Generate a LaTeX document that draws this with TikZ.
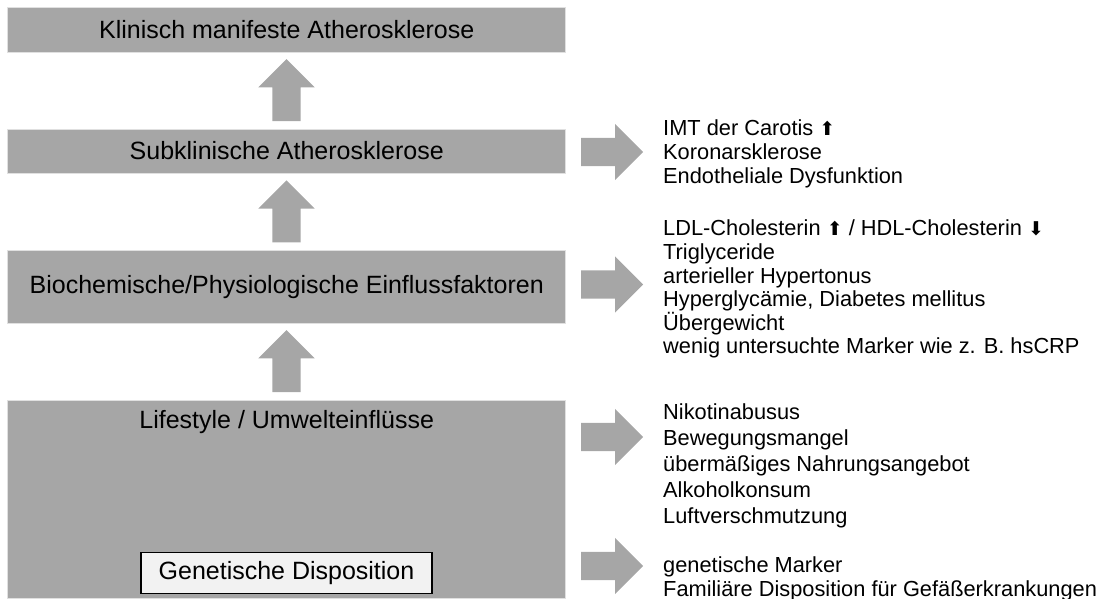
\documentclass[tikz,border=0pt]{standalone}
\usepackage{fontspec}
\setmainfont{Liberation Sans}
\newfontfamily\symfont{DejaVu Sans}
\usetikzlibrary{shapes.arrows}
\definecolor{stagegray}{HTML}{A6A6A6}
\definecolor{genfill}{HTML}{F2F2F2}
\newcommand{\hoch}{{\symfont\fontsize{19}{19}\selectfont ⬆}}
\newcommand{\runter}{{\symfont\fontsize{19}{19}\selectfont ⬇}}

\begin{document}
\begin{tikzpicture}[x=1pt, y=-1pt]
\tikzstyle{stage}=[fill=stagegray,draw=black!12,line width=0.6pt,minimum width=558pt,inner sep=0pt,font=\fontsize{25}{30}\selectfont]
\tikzstyle{uparr}=[single arrow,fill=stagegray,minimum height=62pt,minimum width=56pt,single arrow head extend=14pt,inner sep=14pt,shape border rotate=90,anchor=tail]
\tikzstyle{rarr}=[uparr,shape border rotate=0]
\tikzstyle{list}=[anchor=north west,align=left,inner sep=0pt]
\useasboundingbox (0,0) rectangle (1100,599);
% Stufen
\node[stage,minimum height=45pt]   (klin)  at (286.7,29.8)  {Klinisch manifeste Atherosklerose};
\node[stage,minimum height=44pt]   (subkl) at (286.7,151)   {Subklinische Atherosklerose};
\node[stage,minimum height=72.5pt] (bio)   at (286.7,286.7) {Biochemische/Physiologische Einflussfaktoren};
\node[stage,minimum height=198pt]  (life)  at (286.7,499)   {};
\node[font=\fontsize{25}{30}\selectfont] (lifetxt) at (286.7,422) {Lifestyle / Umwelteinflüsse};
\node[draw,fill=genfill,line width=1.2pt,minimum width=291pt,minimum height=41pt,font=\fontsize{25}{30}\selectfont] (gen) at (286.5,573) {Genetische Disposition};
% Pfeile nach oben
\node[uparr] (a1) at (286.5,121.3) {};
\node[uparr] (a2) at (286.5,242.5) {};
\node[uparr] (a3) at (286.5,392.3) {};
% Pfeile nach rechts
\node[rarr] (r1) at (581,152)   {};
\node[rarr] (r2) at (581,284.5) {};
\node[rarr] (r3) at (581,437)   {};
\node[rarr] (r4) at (581,566)   {};
% Listen
\node[list,font=\fontsize{21.8}{23.6}\selectfont] (subkllist) at (663,120) {IMT der Carotis \hoch\\Koronarsklerose\\Endotheliale Dysfunktion};
\node[list,font=\fontsize{21.8}{23.6}\selectfont] (biolist) at (663,220) {LDL-Cholesterin \hoch{} / HDL-Cholesterin \runter\\Triglyceride\\arterieller Hypertonus\\Hyperglycämie, Diabetes mellitus\\Übergewicht\\wenig untersuchte Marker wie z. B. hsCRP};
\node[list,font=\fontsize{21.8}{26}\selectfont] (lifelist) at (663,403) {Nikotinabusus\\Bewegungsmangel\\übermäßiges Nahrungsangebot\\Alkoholkonsum\\Luftverschmutzung};
\node[list,font=\fontsize{21.8}{24}\selectfont] (genlist) at (663,556) {genetische Marker\\Familiäre Disposition für Gefäßerkrankungen};
\end{tikzpicture}
\end{document}
